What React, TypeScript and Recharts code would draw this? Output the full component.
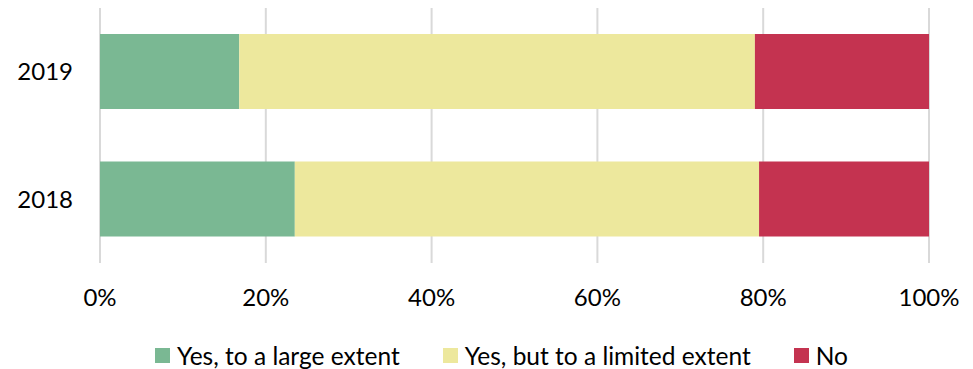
import { BarChart, Bar, XAxis, YAxis, CartesianGrid, Legend } from "recharts";

const years = ["2019", "2018"];
const largeExtent = [16.8, 23.5];
const limitedExtent = [62.2, 56.0];
const noShare = [21.0, 20.5];
const xTicks = [0, 20, 40, 60, 80, 100];

const seriesKeys = ["large", "limited", "no"];
const seriesNames = ["Yes, to a large extent", "Yes, but to a limited extent", "No"];
const colors = ["#7AB893", "#EDE89D", "#C43350"];

const data = years.map((year, i) => ({
  year,
  large: largeExtent[i],
  limited: limitedExtent[i],
  no: noShare[i],
}));

const LegendBox = () => (
  <div
    style={{
      height: 56,
      paddingTop: 28,
      boxSizing: "border-box",
      display: "flex",
      justifyContent: "center",
      paddingLeft: 74,
      fontFamily: "Lato",
      fontSize: 24.5,
      color: "#000",
      lineHeight: "25px",
    }}
  >
    {seriesNames.map((name, i) => (
      <div
        key={name}
        style={{ display: "flex", alignItems: "center", marginLeft: i === 0 ? 0 : 43 }}
      >
        <span style={{ width: 15, height: 15, background: colors[i], marginRight: 7 }} />
        <span>{name}</span>
      </div>
    ))}
  </div>
);

const App = () => {
  const tickStyle = { fill: "#000", fontSize: 24, fontFamily: "Lato" };
  return (
    <div style={{ position: "absolute", left: 0, top: 0, background: "#fff" }}>
      <BarChart
        width={973}
        height={369}
        data={data}
        layout="vertical"
        margin={{ top: 8, right: 44, bottom: 0, left: 0 }}
        barSize={75}
      >
        <CartesianGrid horizontal={false} stroke="#d9d9d9" strokeWidth={2} />
        <XAxis
          type="number"
          domain={[0, 100]}
          ticks={xTicks}
          tickFormatter={(v) => `${v}%`}
          axisLine={false}
          tickLine={false}
          tickSize={0}
          tickMargin={26}
          height={50}
          tick={tickStyle}
          interval={0}
        />
        <YAxis
          type="category"
          dataKey="year"
          width={100}
          axisLine={false}
          tickLine={false}
          tickSize={0}
          tickMargin={27}
          tick={tickStyle}
        />
        <Legend verticalAlign="bottom" content={<LegendBox />} />
        {seriesKeys.map((key, i) => (
          <Bar
            key={key}
            dataKey={key}
            name={seriesNames[i]}
            stackId="a"
            fill={colors[i]}
            isAnimationActive={false}
          />
        ))}
      </BarChart>
    </div>
  );
};

export default App;
